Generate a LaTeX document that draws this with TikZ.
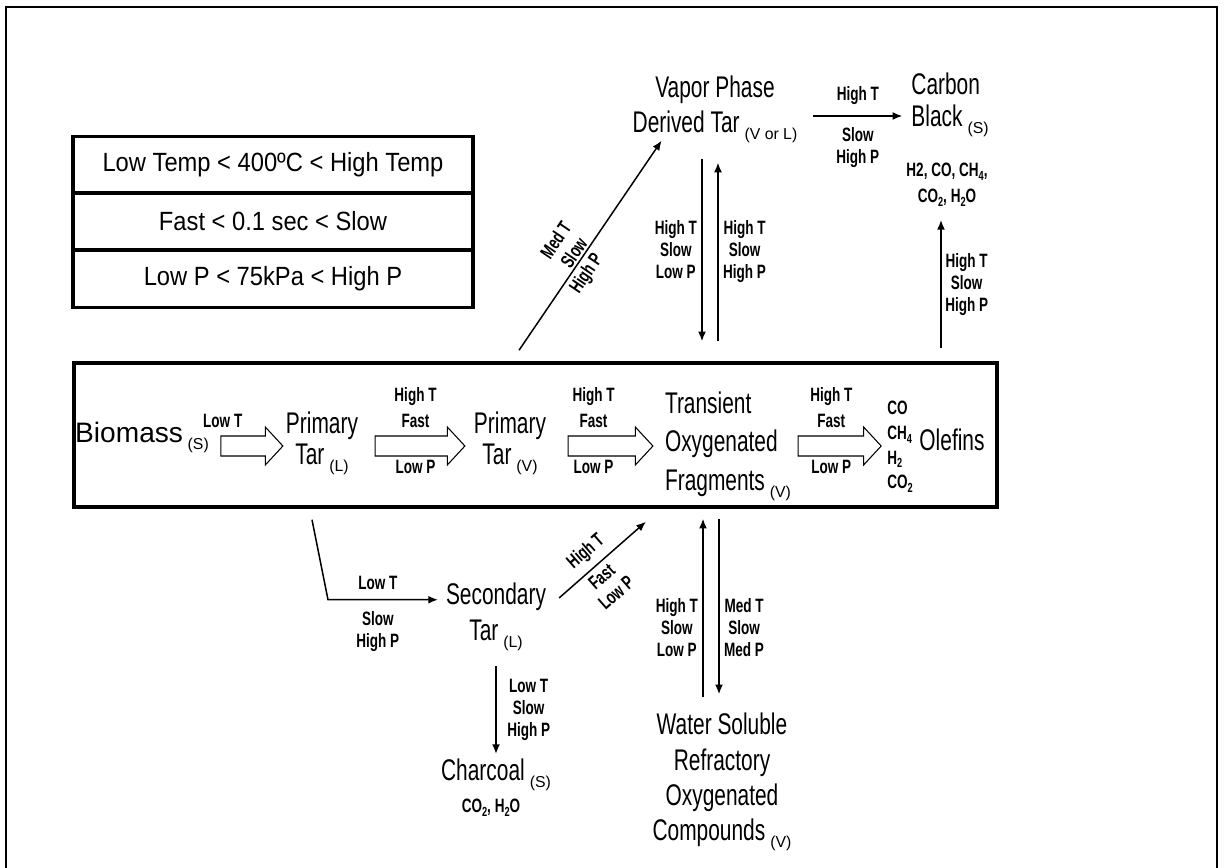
\documentclass[tikz,border=0pt]{standalone}
\usepackage{fontspec}
\setmainfont{Liberation Sans}[FakeStretch=0.7]
\newfontfamily\legendfont{Liberation Sans}[FakeStretch=0.9]
\newfontfamily\widefont{Liberation Sans}
\usetikzlibrary{arrows.meta,calc,positioning}

% phase after a species name
\newcommand{\phase}[1]{\,\raisebox{-4pt}{\widefont\fontsize{9}{10}\selectfont #1}}
% small chemical index
\newcommand{\idx}[1]{\raisebox{-2.2pt}{\fontsize{7.5}{7.5}\selectfont #1}}

\begin{document}
\begin{tikzpicture}[
    x=0.02cm, y=-0.02cm,
    species/.style={align=center, inner sep=1pt, font=\fontsize{17}{20}\selectfont},
    cond/.style={align=center, inner sep=1pt, font=\bfseries\fontsize{11}{12.5}\selectfont},
    widecond/.style={cond, font=\bfseries\fontsize{11}{15}\selectfont},
    flow/.style={line width=0.85pt, -{Latex[length=5.5pt,width=4.5pt]}},
    fat/.style={draw, line width=0.6pt, fill=white, to path={
        let \p1=(\tikztostart), \p2=(\tikztotarget) in
        (\x1,\y1+5.7pt) -- (\x2-10pt,\y1+5.7pt) -- (\x2-10pt,\y1+10.8pt) -- (\x2,\y1)
        -- (\x2-10pt,\y1-10.8pt) -- (\x2-10pt,\y1-5.7pt) -- (\x1,\y1-5.7pt) -- cycle}},
    legrow/.style={draw, line width=2pt, minimum width=8cm, minimum height=1.14cm,
        font=\legendfont\fontsize{15}{17}\selectfont},
    frame/.style={line width=1.5pt}
]
\useasboundingbox (0,0) rectangle (1225,868);

% outer frame, open at the bottom
\draw[frame] (6,868) -- (6,7) -- (1217,7) -- (1217,868);

% legend
\node[legrow] (leg1) at (273,165) {Low Temp < 400ºC < High Temp};
\node[legrow] (leg2) at (273,221.5) {Fast < 0.1 sec < Slow};
\node[legrow] (leg3) at (273,279) {Low P < 75kPa < High P};

% main chain
\node[draw, line width=2pt, minimum width=18.46cm, minimum height=2.88cm, inner sep=0pt] (chain) at (535.5,435) {};
\coordinate (row) at (0,446);
\node[species, font=\widefont\fontsize{16}{20}\selectfont] (bio) at (142,437) {Biomass\phase{(S)}};
\node[species, font=\fontsize{17}{17.5}\selectfont] (ptl) at (322,443) {Primary\\Tar\phase{(L)}};
\node[species, font=\fontsize{17}{17.5}\selectfont] (ptv) at (510,443) {Primary\\Tar\phase{(V)}};
\node[species, align=left, font=\fontsize{17}{22}\selectfont] (trans) at (728,446) {Transient\\Oxygenated\\Fragments\phase{(V)}};
\node[cond, align=left, font=\bfseries\fontsize{11}{14}\selectfont] (gas) at (900,447) {CO\\CH\idx{4}\\H\idx{2}\\CO\idx{2}};
\node[species] (olef) at (952,440) {Olefins};

\coordinate (a1s) at ($(bio.east |- row)+(10,0)$);
\coordinate (a1t) at ($(ptl.west |- row)+(-1,0)$);
\coordinate (a2s) at ($(ptl.east |- row)+(15,0)$);
\coordinate (a2t) at ($(ptv.west |- row)+(-7,0)$);
\coordinate (a3s) at ($(ptv.east |- row)+(20,0)$);
\coordinate (a3t) at ($(trans.west |- row)+(-10,0)$);
\coordinate (a4s) at ($(trans.east |- row)+(5,0)$);
\coordinate (a4t) at ($(gas.west |- row)+(-4,0)$);

\draw[fat] (a1s) to (a1t);
\draw[fat] (a2s) to (a2t);
\draw[fat] (a3s) to (a3t);
\draw[fat] (a4s) to (a4t);

\path (a1s) -- (a1t) node[pos=.03, above=9pt, cond] {Low T};
\path (a2s) -- (a2t) node[pos=.45, above=9pt, widecond] {High T\\Fast} node[pos=.45, below=7pt, cond] {Low P};
\path (a3s) -- (a3t) node[pos=.3, above=9pt, widecond] {High T\\Fast} node[pos=.3, below=7pt, cond] {Low P};
\path (a4s) -- (a4t) node[pos=.4, above=9pt, widecond] {High T\\Fast} node[pos=.4, below=7pt, cond] {Low P};

% upper branch
\node[species] (vapor) at (715,109) {Vapor Phase\\Derived Tar\phase{(V or L)}};
\node[species, align=left, font=\fontsize{17}{18}\selectfont] (carbon) at (950,105) {Carbon\\Black\phase{(S)}};
\node[widecond] (prod) at (947,185) {H2, CO, CH\idx{4},\\CO\idx{2}, H\idx{2}O};

\coordinate (cbrow) at (0,116);
\draw[flow] ($(vapor.east |- cbrow)+(14,0)$) -- ($(carbon.west |- cbrow)+(-7,0)$)
    node[midway, above=5pt, cond] {High T} node[midway, below=5pt, cond] {Slow\\High P};
\draw[flow] ($(prod.south |- chain.north)+(-6,-13)$) -- ($(prod.south)+(-6,11)$)
    node[midway, right=1pt, cond] {High T\\Slow\\High P};
\draw[flow] ($(ptv.north |- chain.north)+(9,-11)$) -- ($(vapor.south west)+(31,-4)$)
    node[pos=.44, sloped, above=0pt, cond] {Med T\\Slow} node[pos=.40, sloped, below=1pt, cond] {High P};
\draw[flow] ($(vapor.south)+(-13,14)$) -- ($(vapor.south |- chain.north)+(-13,-20)$)
    node[midway, left=1.5pt, cond] {High T\\Slow\\Low P};
\draw[flow] ($(vapor.south |- chain.north)+(3,-20)$) -- ($(vapor.south)+(3,18)$)
    node[midway, right=1.5pt, cond] {High T\\Slow\\High P};

% lower branch
\node[species, font=\fontsize{17}{20.5}\selectfont] (sec) at (496,617) {Secondary\\Tar\phase{(L)}};
\node[species] (char) at (496,775) {Charcoal\phase{(S)}};
\node[cond] (chargas) at (491,808) {CO\idx{2}, H\idx{2}O};
\node[species] (water) at (722,782) {Water Soluble\\Refractory\\Oxygenated\\Compounds\phase{(V)}};

\draw[flow, shorten >=3.4pt] ($(ptl.south |- chain.south)+(-10,11)$) -- ++(16,80) coordinate (bend) -- (bend -| sec.west)
    node[pos=.43, above=4.5pt, cond] {Low T} node[pos=.43, below=5.5pt, cond] {Slow\\High P};
\draw[flow] ($(sec.east)+(11,-19)$) -- ($(trans.south west |- chain.south)+(-17,13)$)
    node[pos=.44, sloped, above=3pt, cond] {High T} node[pos=.40, sloped, below=1.5pt, cond] {Fast\\Low P};
\draw[flow] ($(sec.south)+(0,13)$) -- ($(char.north)+(0,-3)$)
    node[midway, right=5pt, cond] {Low T\\Slow\\High P};
\draw[flow] ($(water.north)+(-19,-14)$) -- ($(water.north |- chain.south)+(-19,10)$)
    node[pos=.39, left=1.5pt, cond] {High T\\Slow\\Low P};
\draw[flow] ($(water.north |- chain.south)+(-3,10)$) -- ($(water.north)+(-3,-17)$)
    node[pos=.62, right=1.5pt, cond] {Med T\\Slow\\Med P};

\end{tikzpicture}
\end{document}
